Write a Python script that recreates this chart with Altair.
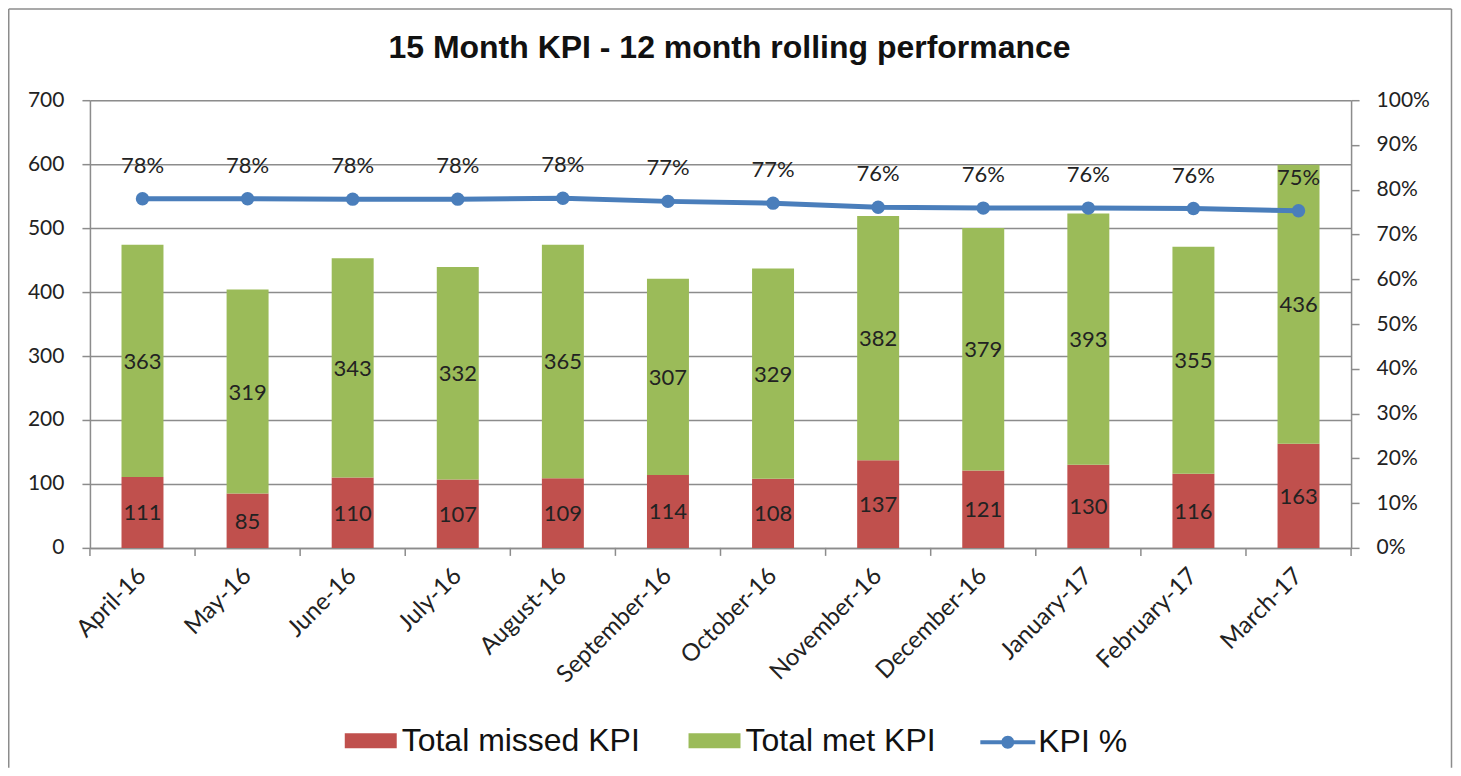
import altair as alt
import pandas as pd

months = ["April-16", "May-16", "June-16", "July-16", "August-16", "September-16",
          "October-16", "November-16", "December-16", "January-17", "February-17", "March-17"]
missed = [111, 85, 110, 107, 109, 114, 108, 137, 121, 130, 116, 163]
met = [363, 319, 343, 332, 365, 307, 329, 382, 379, 393, 355, 436]
kpi_pct = [78.0, 78.0, 77.9, 77.9, 78.1, 77.4, 77.0, 76.1, 75.9, 75.9, 75.8, 75.3]
title_text = "15 Month KPI - 12 month rolling performance"

series_names = ["Total missed KPI", "Total met KPI"]
bar_colors = ["#C0504D", "#9BBB59"]
line_color = "#4A7EBB"
gray = "#8C8C8C"
txt = "#222222"
FONT = "Lato"

rows = []
for i, m in enumerate(months):
    rows.append({"month": m, "series": series_names[0], "value": missed[i], "ord": 0})
    rows.append({"month": m, "series": series_names[1], "value": met[i], "ord": 1})
bars_df = pd.DataFrame(rows)
kpi_df = pd.DataFrame({"month": months, "pct": kpi_pct, "series": ["KPI %"] * len(months)})
month_df = pd.DataFrame({"month": months})
one_df = pd.DataFrame({"title": [title_text]})

W, H = 1262, 448

x_axis = alt.Axis(title=None, labelAngle=-45, labelAlign="right", labelBaseline="middle",
                  labelPadding=24, ticks=False, tickSize=0, labelFont=FONT, labelFontSize=24,
                  labelColor=txt, domainColor=gray, domainWidth=1.5, grid=False)
x_scale = alt.Scale(paddingInner=0, paddingOuter=0)


def xenc(**kw):
    return alt.X("month:N", sort=months, scale=x_scale, axis=x_axis, **kw)


left_axis = alt.Axis(title=None, values=list(range(0, 701, 100)), grid=True, gridColor=gray,
                     gridWidth=1.5, domainColor=gray, domainWidth=1.5, tickColor=gray,
                     tickWidth=1.5, tickSize=8, labelPadding=18, labelFont=FONT,
                     labelFontSize=21, labelColor=txt, orient="left")
left_scale = alt.Scale(domain=[0, 700], nice=False)

bars = alt.Chart(bars_df).mark_bar(size=42).encode(
    x=xenc(),
    y=alt.Y("value:Q", stack="zero", scale=left_scale, axis=left_axis),
    fill=alt.Fill("series:N", scale=alt.Scale(domain=series_names, range=bar_colors),
                  legend=alt.Legend(title=None, orient="none", direction="horizontal",
                                    legendX=255, legendY=615,
                                    symbolType="M-1,-0.29H1V0.29H-1Z", symbolSize=2704,
                                    symbolStrokeWidth=0, labelFont="Liberation Sans",
                                    labelFontSize=32, labelColor="#111111", labelOffset=5,
                                    columnPadding=48, padding=0, labelLimit=400)),
    order=alt.Order("ord:Q"),
)

bar_text = alt.Chart(bars_df).transform_stack(
    stack="value", groupby=["month"], as_=["y0", "y1"], sort=[alt.SortField("ord")]
).transform_calculate(mid="(datum.y0 + datum.y1) / 2").mark_text(
    font=FONT, fontSize=22, color=txt, baseline="middle", dy=1
).encode(
    x=xenc(),
    y=alt.Y("mid:Q", scale=left_scale, axis=left_axis),
    text=alt.Text("value:Q"),
)

ticks = alt.Chart(month_df).mark_rule(color=gray, strokeWidth=1.5).encode(
    x=xenc(bandPosition=0), y=alt.value(H), y2=alt.value(H + 8)
)
ticks_end = alt.Chart(month_df).transform_filter(
    alt.datum.month == months[-1]
).mark_rule(color=gray, strokeWidth=1.5).encode(
    x=xenc(bandPosition=1), y=alt.value(H), y2=alt.value(H + 8)
)

right_axis = alt.Axis(title=None, values=list(range(0, 101, 10)), grid=False,
                      domainColor=gray, domainWidth=1.5, tickColor=gray, tickWidth=1.5,
                      tickSize=8, labelPadding=17, labelFont=FONT, labelFontSize=21,
                      labelColor=txt, orient="right", labelExpr="datum.value + '%'")
right_scale = alt.Scale(domain=[0, 100], nice=False)

line = alt.Chart(kpi_df).mark_line(color=line_color, strokeWidth=5).encode(
    x=xenc(), y=alt.Y("pct:Q", scale=right_scale, axis=right_axis)
)
points = alt.Chart(kpi_df).mark_circle(size=180, opacity=1).encode(
    x=xenc(),
    y=alt.Y("pct:Q", scale=right_scale, axis=right_axis),
    color=alt.Color("series:N", scale=alt.Scale(domain=["KPI %"], range=[line_color]),
                    legend=alt.Legend(title=None, orient="none", direction="horizontal",
                                      legendX=891, legendY=615,
                                      symbolType="M-1,-0.073H1V0.073H-1Z M-0.236,0A0.236,0.236 0 1,1 0.236,0A0.236,0.236 0 1,1 -0.236,0Z",
                                      symbolSize=3025, symbolStrokeWidth=0,
                                      symbolOpacity=1,
                                      labelFont="Liberation Sans", labelFontSize=32,
                                      labelColor="#111111", labelOffset=3, padding=0)),
)
pct_text = alt.Chart(kpi_df).transform_calculate(
    lbl="format(datum.pct, '.0f') + '%'"
).mark_text(font=FONT, fontSize=22, color=txt, baseline="middle", dy=-33).encode(
    x=xenc(),
    y=alt.Y("pct:Q", scale=right_scale, axis=right_axis),
    text="lbl:N",
)

title = alt.Chart(one_df).mark_text(
    font="Liberation Sans", fontSize=32, fontWeight="bold", color="#111111",
    baseline="middle", align="center"
).encode(x=alt.value(640), y=alt.value(-52), text="title:N")

frame_l = alt.Chart(one_df).mark_rule(color=gray, strokeWidth=1.5).encode(
    x=alt.value(-81.25), y=alt.value(-91.25), y2=alt.value(668))
frame_t = alt.Chart(one_df).mark_rule(color=gray, strokeWidth=1.5).encode(
    x=alt.value(-81.25), x2=alt.value(1362.5), y=alt.value(-91.25))
frame_r = alt.Chart(one_df).mark_rule(color=gray, strokeWidth=1.5).encode(
    x=alt.value(1362.5), y=alt.value(-91.25), y2=alt.value(668))

left_layer = alt.layer(bars, bar_text, ticks, ticks_end)
right_layer = alt.layer(line, points, pct_text)

chart = alt.layer(left_layer, right_layer, title, frame_l, frame_t, frame_r).resolve_scale(
    y="independent", fill="independent", color="independent"
).properties(
    width=W, height=H,
    padding=0,
).configure_view(stroke="transparent").configure(background="white")

chart.save("out.html", embed_options={"renderer": "svg", "actions": False})
